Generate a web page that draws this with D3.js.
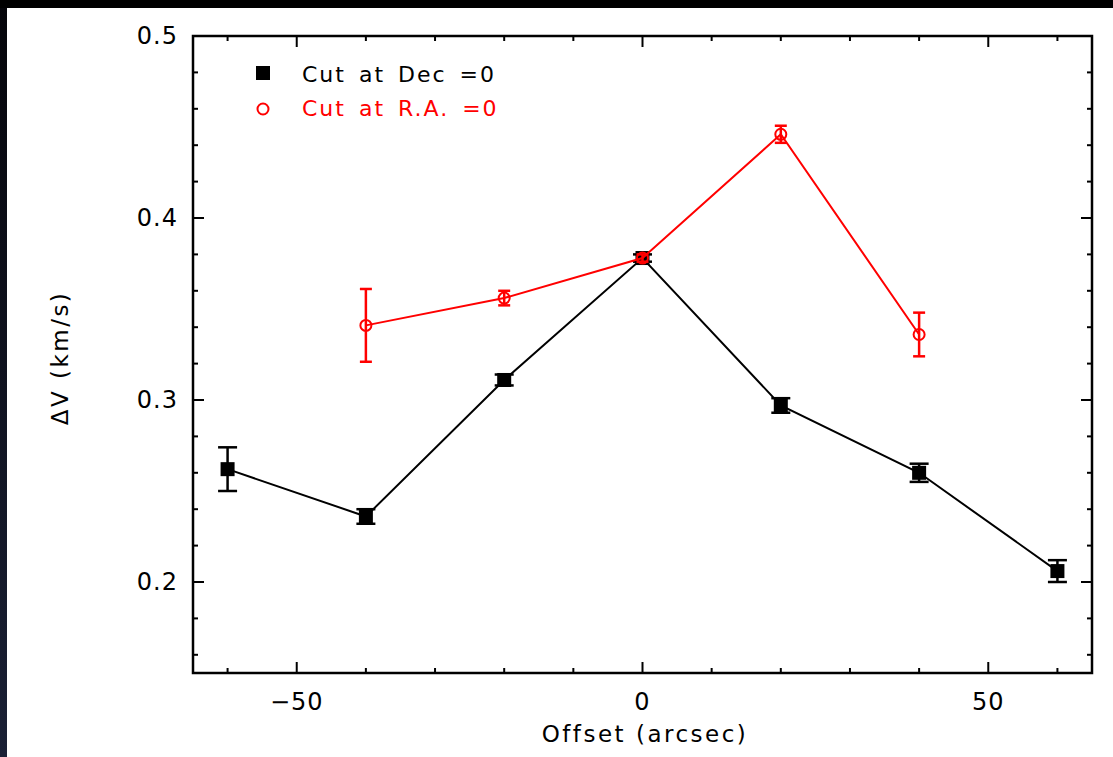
<!DOCTYPE html>
<html>
<head>
<meta charset="utf-8">
<script src="https://cdn.jsdelivr.net/npm/d3@7"></script>
<style>
  html, body { margin: 0; padding: 0; background: #000; }
  svg text { font-family: "DejaVu Sans", sans-serif; }
</style>
</head>
<body>
<div id="chart"></div>
<script>
// offsets in arcsec
var decOffsets = [-60, -40, -20, 0, 20, 40, 60];
var decValues  = [0.262, 0.236, 0.311, 0.378, 0.297, 0.260, 0.206];
var decErrors  = [0.012, 0.004, 0.003, 0.002, 0.004, 0.005, 0.006];

var raOffsets = [-40, -20, 0, 20, 40];
var raValues  = [0.341, 0.356, 0.378, 0.446, 0.336];
var raErrors  = [0.020, 0.004, 0.002, 0.0047, 0.012];

var xTicks = [-50, 0, 50];
var yTicks = [0.2, 0.3, 0.4, 0.5];

(function() {
var W = 1113, H = 757;
var mLeft = 193, mRight = 1092, mTop = 36, mBottom = 673;

var svg = d3.select('#chart').append('svg')
  .attr('width', W).attr('height', H);

// dark page edge + white sheet
var grad = svg.append('defs').append('linearGradient')
  .attr('id', 'edge').attr('x1', 0).attr('x2', 0).attr('y1', 0).attr('y2', 1);
grad.append('stop').attr('offset', '0%').attr('stop-color', '#05050a');
grad.append('stop').attr('offset', '100%').attr('stop-color', '#1a2035');
svg.append('rect').attr('width', W).attr('height', H).attr('fill', 'url(#edge)');
svg.append('rect').attr('width', W).attr('height', 8).attr('fill', '#000');
svg.append('rect').attr('x', 7).attr('y', 8).attr('width', W - 7).attr('height', H - 8).attr('fill', '#fff');

var x = d3.scaleLinear().domain([-65, 65]).range([mLeft, mRight]);
var y = d3.scaleLinear().domain([0.15, 0.5]).range([mBottom, mTop]);

var plot = svg.append('g');

// ticks on all four sides, pointing inward
var xMinor = d3.range(-60, 61, 10);
var yMinor = d3.range(0.16, 0.5001, 0.02);

function isMajorX(v) { return xTicks.indexOf(v) >= 0; }
function isMajorY(v) { return yTicks.some(function(t) { return Math.abs(t - v) < 1e-6; }); }

var ticks = plot.append('g').attr('stroke', '#000').attr('stroke-width', 2);
xMinor.forEach(function(v) {
  var len = isMajorX(v) ? 11 : 5;
  ticks.append('line').attr('x1', x(v)).attr('x2', x(v)).attr('y1', mBottom).attr('y2', mBottom - len);
  ticks.append('line').attr('x1', x(v)).attr('x2', x(v)).attr('y1', mTop).attr('y2', mTop + len);
});
yMinor.forEach(function(v) {
  var len = isMajorY(v) ? 11 : 5;
  ticks.append('line').attr('y1', y(v)).attr('y2', y(v)).attr('x1', mLeft).attr('x2', mLeft + len);
  ticks.append('line').attr('y1', y(v)).attr('y2', y(v)).attr('x1', mRight).attr('x2', mRight - len);
});

plot.append('rect')
  .attr('x', mLeft).attr('y', mTop)
  .attr('width', mRight - mLeft).attr('height', mBottom - mTop)
  .attr('fill', 'none').attr('stroke', '#000').attr('stroke-width', 2.5);

// tick labels
plot.selectAll('.xl').data(xTicks).enter().append('text')
  .attr('x', function(d) { return x(d); })
  .attr('y', 710)
  .attr('text-anchor', 'middle')
  .attr('font-size', 24)
  .attr('letter-spacing', 1)
  .text(function(d) { return d < 0 ? '\u2212' + Math.abs(d) : d; });

plot.selectAll('.yl').data(yTicks).enter().append('text')
  .attr('x', 178)
  .attr('y', function(d) { return y(d) + 8; })
  .attr('text-anchor', 'end')
  .attr('font-size', 24)
  .attr('letter-spacing', 1)
  .text(function(d) { return d.toFixed(1); });

svg.append('text')
  .attr('x', 645).attr('y', 742)
  .attr('text-anchor', 'middle').attr('font-size', 23)
  .attr('letter-spacing', 2.5)
  .text('Offset (arcsec)');

svg.append('text')
  .attr('transform', 'translate(68,358) rotate(-90)')
  .attr('text-anchor', 'middle').attr('font-size', 23)
  .attr('letter-spacing', 2.5)
  .text('\u0394V (km/s)');

function drawSeries(xs, vs, es, color, cap, marker) {
  var pts = xs.map(function(d, i) { return [d, vs[i], es[i]]; });
  var g = plot.append('g');
  var line = d3.line()
    .x(function(d) { return x(d[0]); })
    .y(function(d) { return y(d[1]); });
  g.append('path').attr('d', line(pts))
    .attr('fill', 'none').attr('stroke', color).attr('stroke-width', 2);

  var eb = g.selectAll('.eb').data(pts).enter().append('g')
    .attr('stroke', color).attr('stroke-width', 2.5);
  eb.append('line')
    .attr('x1', function(d) { return x(d[0]); }).attr('x2', function(d) { return x(d[0]); })
    .attr('y1', function(d) { return y(d[1] - d[2]); }).attr('y2', function(d) { return y(d[1] + d[2]); });
  eb.append('line')
    .attr('x1', function(d) { return x(d[0]) - cap / 2; }).attr('x2', function(d) { return x(d[0]) + cap / 2; })
    .attr('y1', function(d) { return y(d[1] + d[2]); }).attr('y2', function(d) { return y(d[1] + d[2]); });
  eb.append('line')
    .attr('x1', function(d) { return x(d[0]) - cap / 2; }).attr('x2', function(d) { return x(d[0]) + cap / 2; })
    .attr('y1', function(d) { return y(d[1] - d[2]); }).attr('y2', function(d) { return y(d[1] - d[2]); });

  if (marker === 'square') {
    g.selectAll('.m').data(pts).enter().append('rect')
      .attr('x', function(d) { return x(d[0]) - 7; })
      .attr('y', function(d) { return y(d[1]) - 7; })
      .attr('width', 14).attr('height', 14)
      .attr('fill', color);
  } else {
    g.selectAll('.m').data(pts).enter().append('circle')
      .attr('cx', function(d) { return x(d[0]); })
      .attr('cy', function(d) { return y(d[1]); })
      .attr('r', 5.5)
      .attr('fill', 'none').attr('stroke', color).attr('stroke-width', 2);
  }
}

drawSeries(decOffsets, decValues, decErrors, '#000', 19, 'square');
drawSeries(raOffsets, raValues, raErrors, '#ff0000', 12, 'circle');

// legend
var leg = svg.append('g');
leg.append('rect').attr('x', 256).attr('y', 66).attr('width', 14).attr('height', 14).attr('fill', '#000');
leg.append('text').attr('x', 302).attr('y', 82).attr('font-size', 22)
  .attr('letter-spacing', 2).attr('word-spacing', 4)
  .text('Cut at Dec =0');
leg.append('circle').attr('cx', 263).attr('cy', 109).attr('r', 5.5)
  .attr('fill', 'none').attr('stroke', '#ff0000').attr('stroke-width', 2);
leg.append('text').attr('x', 302).attr('y', 116).attr('font-size', 22)
  .attr('letter-spacing', 2).attr('word-spacing', 4)
  .attr('fill', '#ff0000')
  .text('Cut at R.A. =0');
})();
</script>
</body>
</html>
